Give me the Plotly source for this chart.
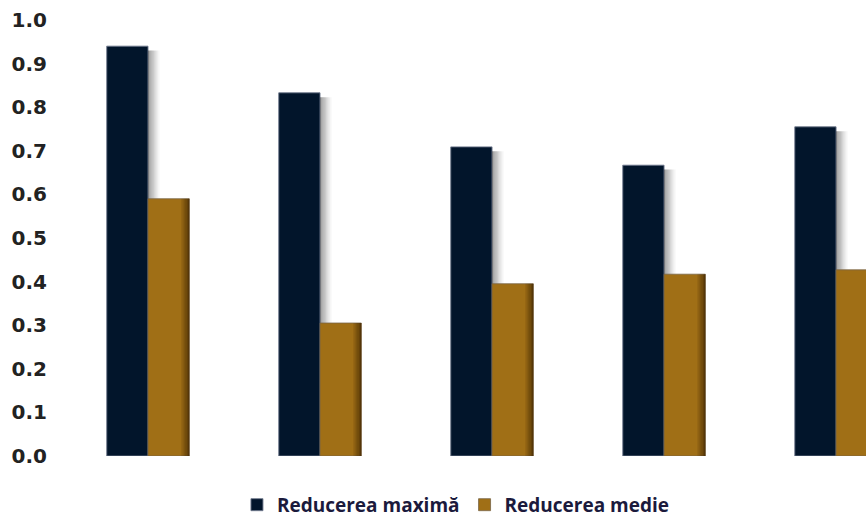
import plotly.graph_objects as go

# Group positions along the (hidden) category axis
groups = [0, 1, 2, 3, 4]

# Values per group
reducerea_maxima = [0.94, 0.833, 0.709, 0.667, 0.755]
reducerea_medie = [0.59, 0.305, 0.395, 0.417, 0.427]

# Y axis ticks
y_ticks = [0.0, 0.1, 0.2, 0.3, 0.4, 0.5, 0.6, 0.7, 0.8, 0.9, 1.0]
y_tick_labels = ["0.0", "0.1", "0.2", "0.3", "0.4", "0.5", "0.6", "0.7", "0.8", "0.9", "1.0"]

NAVY = "#02152b"
GOLD = "#a06f16"
BAR_W = 0.24

fig = go.Figure()

# Dark bars (left bar of each pair)
fig.add_trace(go.Bar(
    x=groups, y=reducerea_maxima, name="Reducerea maximă",
    width=BAR_W, offset=-BAR_W,
    marker=dict(color=NAVY, line=dict(color="rgba(110,120,140,0.9)", width=1)),
))

# Soft shadow cast to the right of the dark bars
n_sh = 10
sh_w = 0.007
for k in range(n_sh):
    alpha = 0.55 * (1 - k / n_sh) ** 1.4
    fig.add_trace(go.Bar(
        x=groups, y=[v - 0.01 for v in reducerea_maxima],
        width=sh_w, offset=k * sh_w,
        marker=dict(color=f"rgba(60,60,60,{alpha:.3f})", line=dict(width=0)),
        showlegend=False, hoverinfo="skip",
    ))

# Gold bars (right bar of each pair)
fig.add_trace(go.Bar(
    x=groups, y=reducerea_medie, name="Reducerea medie",
    width=BAR_W, offset=0,
    marker=dict(color=GOLD, line=dict(color="rgba(120,100,70,0.8)", width=1)),
))

# Darkening towards the right edge of the gold bars
n_gd = 6
gd_w = 0.008
for k in range(n_gd):
    alpha = 0.10 + 0.12 * k
    fig.add_trace(go.Bar(
        x=groups, y=reducerea_medie,
        width=gd_w, offset=BAR_W - (n_gd - k) * gd_w,
        marker=dict(color=f"rgba(55,32,0,{alpha:.3f})", line=dict(width=0)),
        showlegend=False, hoverinfo="skip",
    ))

fig.update_layout(
    width=866, height=519,
    barmode="overlay",
    plot_bgcolor="white", paper_bgcolor="white",
    margin=dict(l=62, r=0, t=20, b=63, autoexpand=False),
    xaxis=dict(range=[-0.5, 4.174], visible=False, fixedrange=True),
    yaxis=dict(
        range=[0, 1], tickvals=y_ticks, ticktext=y_tick_labels,
        showgrid=False, zeroline=False, showline=False,
        tickfont=dict(family="DejaVu Sans", size=20, color="#222222", weight="bold"),
        ticklabelstandoff=14,
    ),
    legend=dict(
        orientation="h", x=0.49, xanchor="center", y=-0.112, yanchor="middle",
        font=dict(family="Open Sans", size=19, color="#1b1a3c", weight="bold"),
        itemwidth=30,
    ),
    showlegend=True,
)

fig.write_html("out.html")
